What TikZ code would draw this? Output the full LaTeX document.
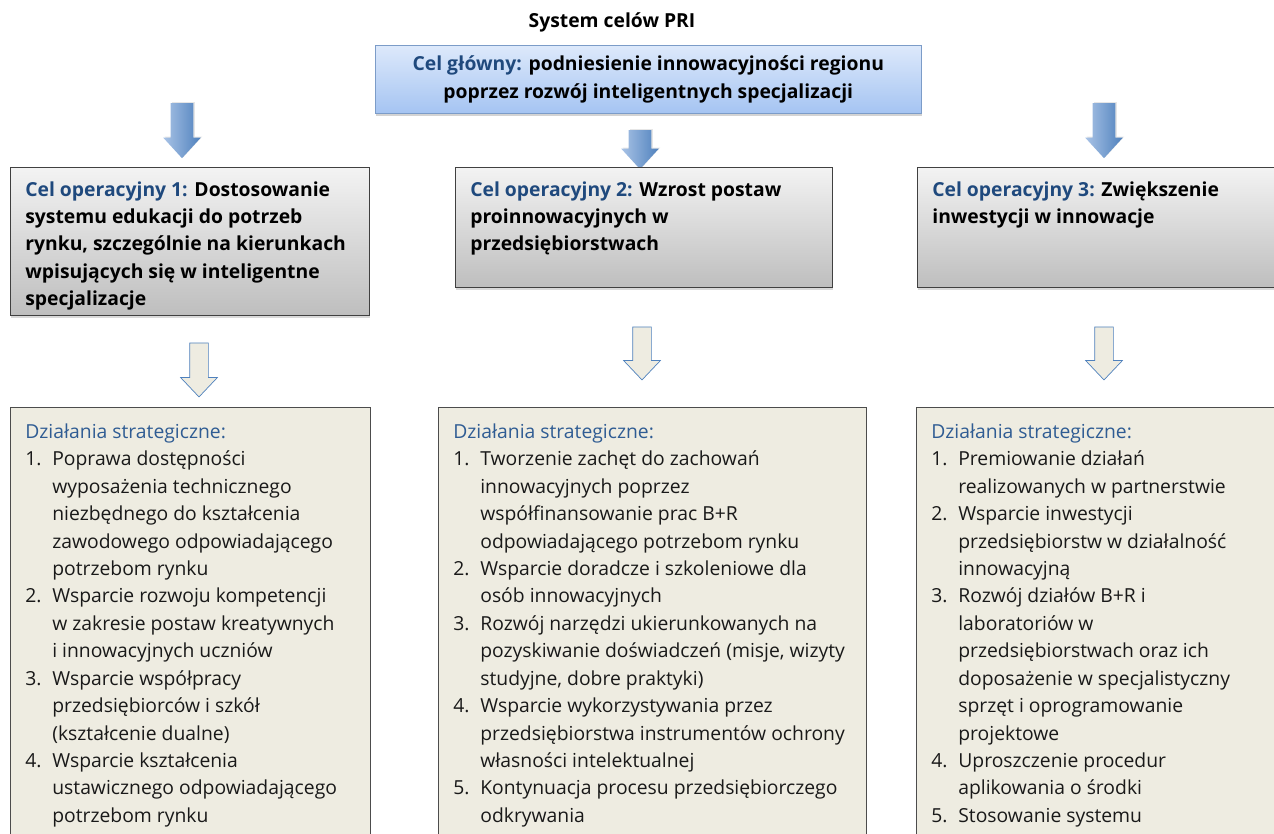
\documentclass[tikz,border=0pt]{standalone}
\usepackage{fontspec}
\setmainfont{Open Sans}
\usepackage{tikz}
\usetikzlibrary{shapes.arrows, shadows, positioning}
\definecolor{celblue}{HTML}{1F497D}
\definecolor{dzblue}{HTML}{2F5C93}
\definecolor{mainlight}{HTML}{DDE9FB}
\definecolor{maindark}{HTML}{A5C4F2}
\definecolor{mainline}{HTML}{7C9CC8}
\definecolor{oplight}{HTML}{F3F3F3}
\definecolor{opdark}{HTML}{BEBEBE}
\definecolor{actfill}{HTML}{EEECE1}
\definecolor{arrowlight}{HTML}{A9C3E6}
\definecolor{arrowdark}{HTML}{4F81BD}
\newcommand{\boxfont}{\fontsize{11}{15.6}\selectfont}
\newcommand{\goal}[1]{\textcolor{celblue}{#1}}
\tikzstyle{titletext} = [font=\bfseries\boxfont, inner sep=0pt]
\tikzstyle{mainbox} = [rectangle, draw=mainline, top color=mainlight, bottom color=maindark, align=center, font=\bfseries\boxfont, inner sep=0pt, drop shadow={shadow xshift=0.6pt, shadow yshift=-1.6pt, opacity=0.35}]
\tikzstyle{opbox} = [rectangle, draw=black!75, top color=oplight, bottom color=opdark, inner sep=0pt, drop shadow={shadow xshift=0.6pt, shadow yshift=-1.6pt, opacity=0.3}]
\tikzstyle{optext} = [align=left, font=\bfseries\boxfont, inner sep=0pt]
\tikzstyle{actbox} = [rectangle, draw=black!70, fill=actfill, inner sep=0pt]
\tikzstyle{acttext} = [inner sep=0pt, font=\boxfont, text=black!90]
\tikzstyle{bluearrow} = [single arrow, rotate=-90, draw=none, left color=arrowlight, right color=arrowdark, minimum width=0.74cm, single arrow head extend=0.15cm, single arrow tip angle=85, inner xsep=0pt, inner ysep=0.22cm, drop shadow={shadow xshift=0.8pt, shadow yshift=0.6pt, opacity=0.2}]
\tikzstyle{hollowarrow} = [single arrow, rotate=-90, draw=arrowdark, fill=actfill, minimum width=0.72cm, single arrow head extend=0.18cm, single arrow tip angle=87, inner xsep=0pt, inner ysep=0.18cm]

\begin{document}
\begin{tikzpicture}[x=0.02cm, y=-0.02cm]
    \useasboundingbox (0,0) rectangle (1274,834);
    \clip (0,0) rectangle (1274,834);

    \node (title) [titletext] at (612,22) {System celów PRI};
    \node (main) [mainbox, anchor=north west, minimum width=10.92cm, minimum height=1.36cm] at (375,45) {\goal{Cel główny:} podniesienie innowacyjności regionu\\poprzez rozwój inteligentnych specjalizacji};

    \node (arr1) [bluearrow, minimum height=1.1cm] at (182,124.5) {};
    \node (arr2) [bluearrow, minimum height=0.78cm] at (640,143.5) {};
    \node (arr3) [bluearrow, minimum height=1.1cm] at (1104,124.5) {};

    \node (op1) [opbox, anchor=north west, minimum width=7.18cm, minimum height=2.96cm] at (10,167) {};
    \node (op2) [opbox, anchor=north west, minimum width=7.54cm, minimum height=2.4cm] at (455,167) {};
    \node (op3) [opbox, anchor=north west, minimum width=8cm, minimum height=2.4cm] at (917,167) {};
    \node (op1text) [optext, below right=0.28cm and 0.3cm of op1.north west] {\goal{Cel operacyjny 1:} Dostosowanie\\systemu edukacji do potrzeb\\rynku, szczególnie na kierunkach\\wpisujących się w inteligentne\\specjalizacje};
    \node (op2text) [optext, below right=0.28cm and 0.3cm of op2.north west] {\goal{Cel operacyjny 2:} Wzrost postaw\\proinnowacyjnych w\\przedsiębiorstwach};
    \node (op3text) [optext, below right=0.28cm and 0.3cm of op3.north west] {\goal{Cel operacyjny 3:} Zwiększenie\\inwestycji w innowacje};

    \node (down1) [hollowarrow, minimum height=1.08cm] at (199,365) {};
    \node (down2) [hollowarrow, minimum height=1.06cm] at (642,348.5) {};
    \node (down3) [hollowarrow, minimum height=1.06cm] at (1104,348.5) {};

    \node (act1) [actbox, anchor=north west, minimum width=7.2cm, minimum height=9.4cm] at (10,407) {};
    \node (act2) [actbox, anchor=north west, minimum width=8.56cm, minimum height=9.4cm] at (438,407) {};
    \node (act3) [actbox, anchor=north west, minimum width=8cm, minimum height=9.4cm] at (916,407) {};

    \node (act1text) [acttext, below right=0.24cm and 0.3cm of act1.north west] {%
        \begin{tabular}{@{}p{0.54cm}@{}l@{}}
        \multicolumn{2}{@{}l@{}}{\textcolor{dzblue}{Działania strategiczne:}}\\
        1. & Poprawa dostępności\\
           & wyposażenia technicznego\\
           & niezbędnego do kształcenia\\
           & zawodowego odpowiadającego\\
           & potrzebom rynku\\
        2. & Wsparcie rozwoju kompetencji\\
           & w zakresie postaw kreatywnych\\
           & i innowacyjnych uczniów\\
        3. & Wsparcie współpracy\\
           & przedsiębiorców i szkół\\
           & (kształcenie dualne)\\
        4. & Wsparcie kształcenia\\
           & ustawicznego odpowiadającego\\
           & potrzebom rynku
        \end{tabular}};
    \node (act2text) [acttext, below right=0.24cm and 0.3cm of act2.north west] {%
        \begin{tabular}{@{}p{0.54cm}@{}l@{}}
        \multicolumn{2}{@{}l@{}}{\textcolor{dzblue}{Działania strategiczne:}}\\
        1. & Tworzenie zachęt do zachowań\\
           & innowacyjnych poprzez\\
           & współfinansowanie prac B+R\\
           & odpowiadającego potrzebom rynku\\
        2. & Wsparcie doradcze i szkoleniowe dla\\
           & osób innowacyjnych\\
        3. & Rozwój narzędzi ukierunkowanych na\\
           & pozyskiwanie doświadczeń (misje, wizyty\\
           & studyjne, dobre praktyki)\\
        4. & Wsparcie wykorzystywania przez\\
           & przedsiębiorstwa instrumentów ochrony\\
           & własności intelektualnej\\
        5. & Kontynuacja procesu przedsiębiorczego\\
           & odkrywania
        \end{tabular}};
    \node (act3text) [acttext, below right=0.24cm and 0.3cm of act3.north west] {%
        \begin{tabular}{@{}p{0.54cm}@{}l@{}}
        \multicolumn{2}{@{}l@{}}{\textcolor{dzblue}{Działania strategiczne:}}\\
        1. & Premiowanie działań\\
           & realizowanych w partnerstwie\\
        2. & Wsparcie inwestycji\\
           & przedsiębiorstw w działalność\\
           & innowacyjną\\
        3. & Rozwój działów B+R i\\
           & laboratoriów w\\
           & przedsiębiorstwach oraz ich\\
           & doposażenie w specjalistyczny\\
           & sprzęt i oprogramowanie\\
           & projektowe\\
        4. & Uproszczenie procedur\\
           & aplikowania o środki\\
        5. & Stosowanie systemu
        \end{tabular}};
\end{tikzpicture}
\end{document}
